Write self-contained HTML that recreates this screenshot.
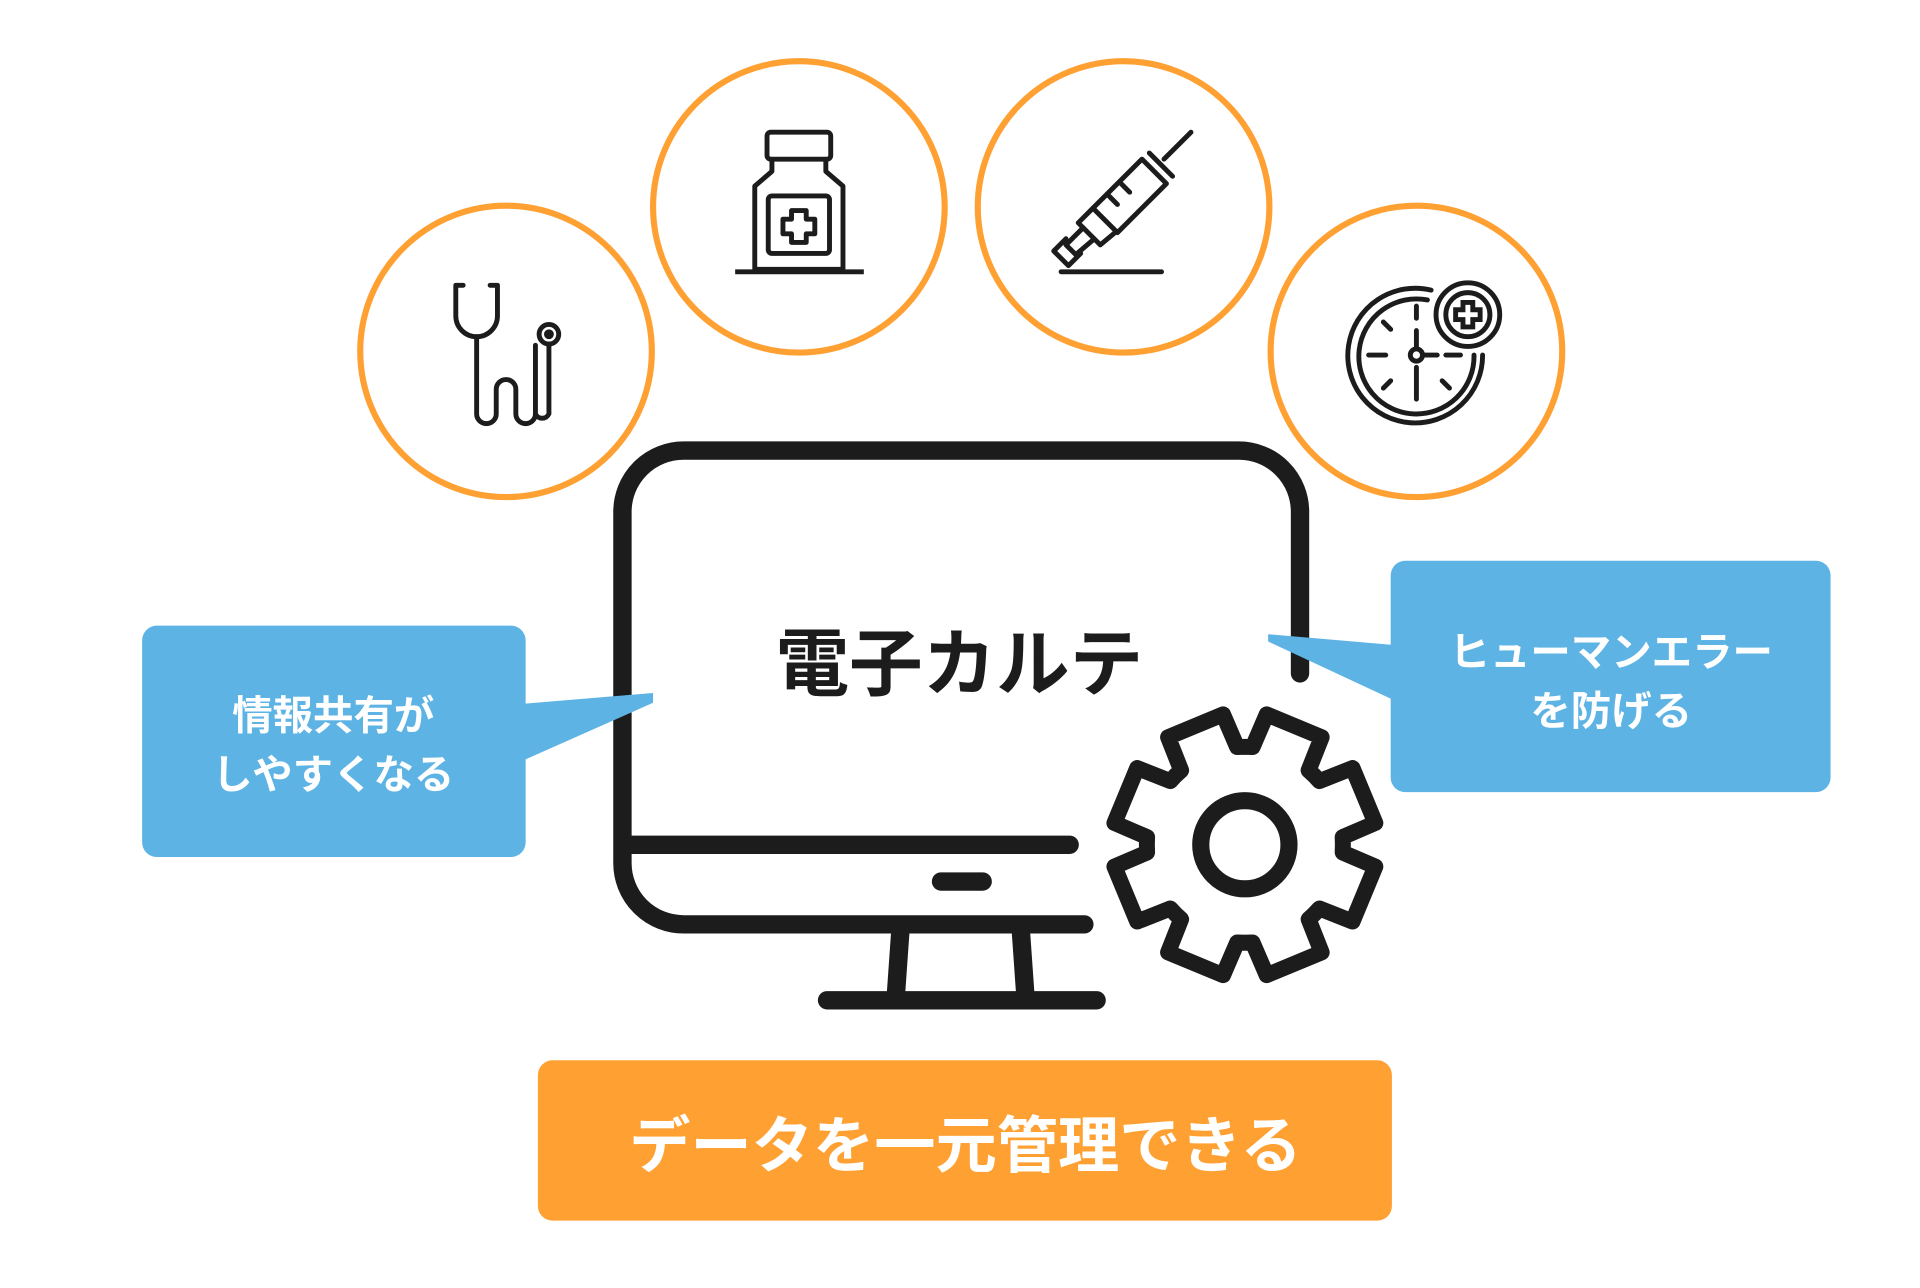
<!DOCTYPE html>
<html><head><meta charset="utf-8"><style>
html,body{margin:0;padding:0;background:#fff;}
svg{display:block}
text{font-family:"Liberation Sans","Noto Sans CJK JP",sans-serif;font-weight:bold;}
</style></head><body>
<svg width="1920" height="1288" viewBox="0 0 1567 1052" preserveAspectRatio="none" xmlns="http://www.w3.org/2000/svg">
<rect width="1567" height="1052" fill="#fff"/>
<g fill="none" stroke="#FFA033" stroke-width="5">
<circle cx="413" cy="287" r="119"/>
<circle cx="652" cy="169" r="119"/>
<circle cx="917" cy="169" r="119"/>
<circle cx="1156" cy="287" r="119"/>
</g>
<g fill="none" stroke="#1c1c1c" stroke-width="4" stroke-linecap="round" stroke-linejoin="round">
<path d="M378 233 L372 233 L372 258 A17 17 0 0 0 406 258 L406 233 L400 233"/>
<path d="M389 275 L389 338 A8 8 0 0 0 405 338 L405 318 A8 8 0 0 1 421 318 L421 338 A8 8 0 0 0 437 338 L437 282"/>
<circle cx="448" cy="273" r="8"/><circle cx="448" cy="273" r="2"/>
<path d="M448 281 L448 338 A6 6 0 0 1 437 338"/>
</g>
<g fill="none" stroke="#1c1c1c" stroke-width="4" stroke-linejoin="round">
<rect x="626" y="108" width="52" height="22" rx="3"/>
<path d="M630 130 L630 140 L616 152 L616 220 L688 220 L688 152 L674 140 L674 130"/>
<rect x="627" y="160" width="50" height="47" rx="3"/>
<path d="M646 172 h12 v7 h7 v12 h-7 v7 h-12 v-7 h-7 v-12 h7 z"/>
<path d="M600 222 L705 222"/>
</g>
<g fill="none" stroke="#1c1c1c" stroke-width="4" stroke-linecap="round" stroke-linejoin="round">
<path d="M972 108 L950 130"/>
<path d="M932 130 L952 150 L912 190 L892 170 Z"/>
<path d="M938 125 L957 144"/>
<path d="M892 170 L880 182 L898 200 L910 190"/>
<path d="M884 186 L870 200 L878 208 L892 196"/>
<path d="M870 195 L860 205 L872 217 L882 207"/>
<path d="M866 222 L948 222"/>
<path d="M915 150 L922 157 M905 160 L912 167"/>
</g>
<g fill="none" stroke="#1c1c1c" stroke-width="4" stroke-linecap="round">
<path d="M1168 237 A55 55 0 1 0 1210 290"/>
<path d="M1165 245 A47 47 0 1 0 1203 290"/>
<circle cx="1198" cy="257" r="26"/><circle cx="1198" cy="257" r="18"/>
<path d="M1194 247 h8 v6 h6 v8 h-6 v6 h-8 v-6 h-6 v-8 h6 z"/>
<circle cx="1156" cy="290" r="5"/>
<path d="M1156 250 v10 M1156 270 v14 M1156 300 v26 M1117 290 h14 M1161 290 h12 M1180 290 h12 M1129 263 l6 6 M1129 317 l6 -6 M1183 317 l-6 -6"/>
</g>
<g fill="none" stroke="#1c1c1c" stroke-width="15" stroke-linecap="round" stroke-linejoin="round">
<path d="M1061 550 L1061 418 A50 50 0 0 0 1011 368 L558 368 A50 50 0 0 0 508 418 L508 705 A50 50 0 0 0 558 755 L885 755"/>
<path d="M512 690 L873 690"/>
<path d="M768 720 L802 720"/>
<path d="M735 758 L731 815 M833 758 L837 815"/>
<path d="M675 817 L895 817"/>
</g>
<path id="gear" fill="#fff" stroke="#1c1c1c" stroke-width="13" stroke-linejoin="round" d=""/>
<circle cx="1016" cy="690" r="36" fill="none" stroke="#1c1c1c" stroke-width="14"/>
<text x="783" y="563" font-size="60" text-anchor="middle" fill="#1c1c1c">電子カルテ</text>
<rect x="116" y="511" width="313" height="189" rx="12" fill="#5DB3E4"/>
<path d="M425 575 L533 566 L533 574 L425 622 Z" fill="#5DB3E4"/>
<text x="272" y="596" font-size="33" text-anchor="middle" fill="#fff">情報共有が</text>
<text x="272" y="644" font-size="33" text-anchor="middle" fill="#fff">しやすくなる</text>
<rect x="1135" y="458" width="359" height="189" rx="12" fill="#5DB3E4"/>
<path d="M1140 527 L1035 518 L1035 524 L1140 573 Z" fill="#5DB3E4"/>
<text x="1315" y="544" font-size="33" text-anchor="middle" fill="#fff">ヒューマンエラー</text>
<text x="1315" y="592" font-size="33" text-anchor="middle" fill="#fff">を防げる</text>
<rect x="439" y="866" width="697" height="131" rx="12" fill="#FFA033"/>
<text x="788" y="953" font-size="50" text-anchor="middle" fill="#fff">データを一元管理できる</text>
<script>
(function(){
var cx=1016,cy=690,Ro=108,Ri=80,pts=[];
for(var k=0;k<8;k++){
 var a=(22.5+45*k-90)*Math.PI/180;
 var d1=13*Math.PI/180,d2=20*Math.PI/180;
 [[a-d2-3*Math.PI/180,Ri],[a-d2+2*Math.PI/180,Ri],[a-d1,Ro],[a+d1,Ro],[a+d2-2*Math.PI/180,Ri],[a+d2+3*Math.PI/180,Ri]].forEach(function(p){
  pts.push((cx+p[1]*Math.cos(p[0])).toFixed(1)+' '+(cy+p[1]*Math.sin(p[0])).toFixed(1));
 });
}
document.getElementById('gear').setAttribute('d','M'+pts.join(' L')+' Z');
})();
</script>
</svg>
</body></html>
